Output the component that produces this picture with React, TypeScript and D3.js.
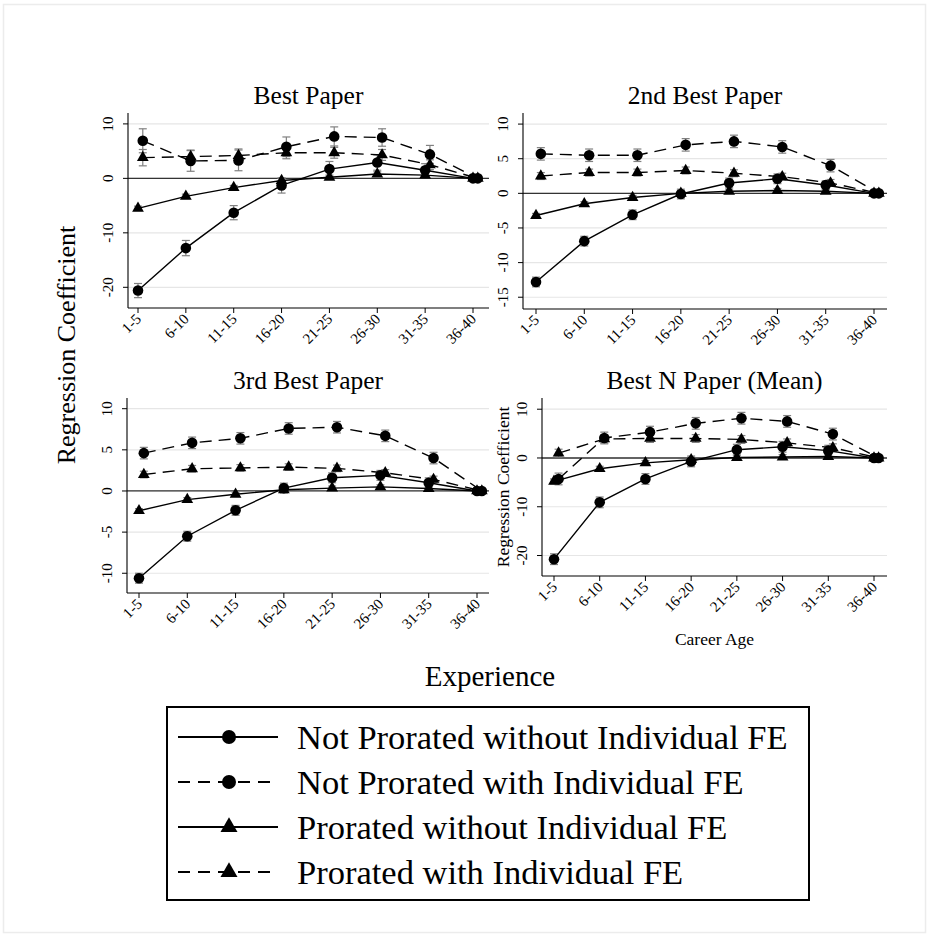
import React from "react";
import * as d3 from "d3";

// career age groups (x categories)
const ageGroups = ["1-5", "6-10", "11-15", "16-20", "21-25", "26-30", "31-35", "36-40"];

// Best Paper
const bestNotProNoFE = [-20.6, -12.8, -6.3, -1.3, 1.7, 2.9, 1.5, 0];
const bestNotProNoFECI = [1.3, 1.4, 1.3, 1.4, 1.4, 1.4, 1.2, 0];
const bestNotProFE = [6.9, 3.2, 3.3, 5.8, 7.7, 7.5, 4.4, 0];
const bestNotProFECI = [2.2, 1.9, 1.9, 1.8, 1.75, 1.6, 1.65, 0];
const bestProNoFE = [-5.5, -3.3, -1.7, -0.4, 0.2, 0.8, 0.6, 0];
const bestProNoFECI = [0.4, 0.4, 0.4, 0.4, 0.4, 0.4, 0.4, 0];
const bestProFE = [3.8, 4.0, 4.2, 4.7, 4.7, 4.3, 2.5, 0];
const bestProFECI = [1.5, 1.2, 1.2, 1.1, 1.0, 1.0, 0.9, 0];

// 2nd Best Paper
const secondNotProNoFE = [-12.8, -6.9, -3.1, -0.1, 1.5, 2.1, 1.2, 0];
const secondNotProNoFECI = [0.7, 0.7, 0.7, 0.7, 0.7, 0.7, 0.6, 0];
const secondNotProFE = [5.7, 5.5, 5.5, 7.0, 7.5, 6.7, 4.0, 0];
const secondNotProFECI = [0.9, 0.9, 0.9, 0.9, 0.9, 0.9, 0.9, 0];
const secondProNoFE = [-3.2, -1.5, -0.6, 0.0, 0.3, 0.4, 0.3, 0];
const secondProNoFECI = [0.3, 0.3, 0.3, 0.3, 0.3, 0.3, 0.3, 0];
const secondProFE = [2.5, 3.0, 3.0, 3.3, 2.9, 2.4, 1.5, 0];
const secondProFECI = [0.5, 0.5, 0.5, 0.5, 0.5, 0.5, 0.5, 0];

// 3rd Best Paper
const thirdNotProNoFE = [-10.6, -5.5, -2.35, 0.35, 1.6, 1.9, 1.0, 0];
const thirdNotProNoFECI = [0.6, 0.6, 0.6, 0.6, 0.6, 0.6, 0.6, 0];
const thirdNotProFE = [4.6, 5.85, 6.4, 7.6, 7.75, 6.7, 4.0, 0];
const thirdNotProFECI = [0.7, 0.7, 0.7, 0.7, 0.7, 0.7, 0.7, 0];
const thirdProNoFE = [-2.4, -1.05, -0.4, 0.15, 0.35, 0.5, 0.3, 0];
const thirdProNoFECI = [0.25, 0.25, 0.25, 0.25, 0.25, 0.25, 0.25, 0];
const thirdProFE = [2.0, 2.7, 2.8, 2.9, 2.75, 2.2, 1.4, 0];
const thirdProFECI = [0.4, 0.4, 0.4, 0.4, 0.4, 0.4, 0.4, 0];

// Best N Paper (Mean)
const meanNotProNoFE = [-20.75, -9.1, -4.3, -0.7, 1.7, 2.3, 1.5, 0];
const meanNotProNoFECI = [1.1, 1.1, 1.1, 1.1, 1.1, 1.1, 1.1, 0];
const meanNotProFE = [-4.3, 4.1, 5.3, 7.1, 8.15, 7.5, 4.9, 0];
const meanNotProFECI = [1.2, 1.2, 1.2, 1.2, 1.2, 1.2, 1.2, 0];
const meanProNoFE = [-4.8, -2.2, -1.0, -0.35, 0.1, 0.2, 0.3, 0];
const meanProNoFECI = [0.5, 0.5, 0.5, 0.5, 0.5, 0.5, 0.5, 0];
const meanProFE = [1.0, 3.9, 4.0, 4.0, 3.8, 3.1, 2.1, 0];
const meanProFECI = [0.8, 0.8, 0.8, 0.8, 0.8, 0.8, 0.8, 0];

const legendLabels = [
  "Not Prorated without Individual FE",
  "Not Prorated with Individual FE",
  "Prorated without Individual FE",
  "Prorated with Individual FE",
];

// style per series: dashed?, marker, shifted right (FE series)
const seriesStyle = [
  { dashed: false, marker: "circle", shift: 0 },
  { dashed: true, marker: "circle", shift: 0.1 },
  { dashed: false, marker: "triangle", shift: 0 },
  { dashed: true, marker: "triangle", shift: 0.1 },
];

const panels = [
  {
    title: "Best Paper",
    series: [bestNotProNoFE, bestNotProFE, bestProNoFE, bestProFE],
    ci: [bestNotProNoFECI, bestNotProFECI, bestProNoFECI, bestProFECI],
    axisX: 128, top: 113, bottom: 308, xFirst: 138, xLast: 473, right: 489,
    domain: [-23.8, 12.0], ticks: [-20, -10, 0, 10],
  },
  {
    title: "2nd Best Paper",
    series: [secondNotProNoFE, secondNotProFE, secondProNoFE, secondProFE],
    ci: [secondNotProNoFECI, secondNotProFECI, secondProNoFECI, secondProFECI],
    axisX: 523, top: 113, bottom: 309, xFirst: 536, xLast: 874, right: 887,
    domain: [-16.7, 11.6], ticks: [-15, -10, -5, 0, 5, 10],
  },
  {
    title: "3rd Best Paper",
    series: [thirdNotProNoFE, thirdNotProFE, thirdProNoFE, thirdProFE],
    ci: [thirdNotProNoFECI, thirdNotProFECI, thirdProNoFECI, thirdProFECI],
    axisX: 127, top: 398, bottom: 593, xFirst: 139, xLast: 477, right: 489,
    domain: [-12.4, 11.3], ticks: [-10, -5, 0, 5, 10],
  },
  {
    title: "Best N Paper (Mean)",
    series: [meanNotProNoFE, meanNotProFE, meanProNoFE, meanProFE],
    ci: [meanNotProNoFECI, meanNotProFECI, meanProNoFECI, meanProFECI],
    axisX: 542, top: 398, bottom: 576, xFirst: 554, xLast: 874, right: 887,
    domain: [-24.2, 12.3], ticks: [-20, -10, 0, 10],
    yLabel: "Regression Coefficient", xLabel: "Career Age",
  },
];

const FONT = "'Liberation Serif', 'Times New Roman', serif";
const DASH = "12,7";

function Marker({ type, x, y, r, tri }: any) {
  if (type === "circle") return <circle cx={x} cy={y} r={r} fill="#000" />;
  const p = d3.symbol(d3.symbolTriangle, tri)();
  return <path d={p || ""} transform={`translate(${x},${y})`} fill="#000" />;
}

function Panel({ p }: any) {
  const x = d3.scaleLinear().domain([0, ageGroups.length - 1]).range([p.xFirst, p.xLast]);
  const y = d3.scaleLinear().domain(p.domain).range([p.bottom, p.top]);
  const line = d3.line<number>().x((_, i) => x(i)).y((d) => y(d));
  return (
    <g>
      <text x={(p.axisX + p.right) / 2} y={p.top - 9} textAnchor="middle" fontSize={25.5} fontFamily={FONT}>
        {p.title}
      </text>
      {p.ticks.map((t: number) => (
        <line key={"g" + t} x1={p.axisX} x2={p.right} y1={y(t)} y2={y(t)} stroke="#e6e6e6" strokeWidth={1.2} />
      ))}
      <line x1={p.axisX} x2={p.right} y1={y(0)} y2={y(0)} stroke="#333" strokeWidth={1.3} />
      <line x1={p.axisX} x2={p.axisX} y1={p.top} y2={p.bottom} stroke="#000" strokeWidth={1.1} />
      <line x1={p.axisX} x2={p.right} y1={p.bottom} y2={p.bottom} stroke="#000" strokeWidth={1.1} />
      {p.ticks.map((t: number) => (
        <g key={"t" + t}>
          <line x1={p.axisX - 5} x2={p.axisX} y1={y(t)} y2={y(t)} stroke="#000" strokeWidth={1} />
          <text
            transform={`translate(${p.axisX - 15},${y(t)}) rotate(-90)`}
            textAnchor="middle" fontSize={15} fontFamily={FONT}
          >
            {t}
          </text>
        </g>
      ))}
      {ageGroups.map((g, i) => (
        <g key={g}>
          <line x1={x(i)} x2={x(i)} y1={p.bottom} y2={p.bottom + 5} stroke="#000" strokeWidth={1} />
          <text
            transform={`translate(${x(i) + 4},${p.bottom + 12}) rotate(-45)`}
            textAnchor="end" fontSize={15} fontFamily={FONT}
          >
            {g}
          </text>
        </g>
      ))}
      {p.yLabel && (
        <text
          transform={`translate(${p.axisX - 33},${(p.top + p.bottom) / 2}) rotate(-90)`}
          textAnchor="middle" fontSize={17.5} fontFamily={FONT}
        >
          {p.yLabel}
        </text>
      )}
      {p.xLabel && (
        <text x={(p.axisX + p.right) / 2} y={p.bottom + 69} textAnchor="middle" fontSize={17.5} fontFamily={FONT}>
          {p.xLabel}
        </text>
      )}
      {p.series.map((vals: number[], s: number) =>
        vals.map((v, i) => {
          const hw = p.ci[s][i];
          if (!hw) return null;
          const cx = x(i + seriesStyle[s].shift);
          return (
            <g key={`ci${s}-${i}`} stroke="#808080" strokeWidth={1.2}>
              <line x1={cx} x2={cx} y1={y(v - hw)} y2={y(v + hw)} />
              <line x1={cx - 4} x2={cx + 4} y1={y(v - hw)} y2={y(v - hw)} />
              <line x1={cx - 4} x2={cx + 4} y1={y(v + hw)} y2={y(v + hw)} />
            </g>
          );
        })
      )}
      {p.series.map((vals: number[], s: number) => {
        const st = seriesStyle[s];
        const ln = d3.line<number>().x((_, i) => x(i + st.shift)).y((d) => y(d));
        return (
          <g key={"s" + s}>
            <path d={ln(vals) || ""} fill="none" stroke="#000" strokeWidth={1.4} strokeDasharray={st.dashed ? DASH : undefined} />
            {vals.map((v, i) => (
              <Marker key={i} type={st.marker} x={x(i + st.shift)} y={y(v)} r={5.3} tri={60} />
            ))}
          </g>
        );
      })}
    </g>
  );
}

export default function App() {
  const legX = 167, legY = 707, legW = 642, legH = 193;
  const rowY = d3.scaleLinear().domain([0, 3]).range([737, 872]);
  return (
    <svg width={930} height={934} style={{ position: "absolute", left: 0, top: 0, background: "#fff" }}>
      <rect x={3.5} y={4.5} width={922} height={928} fill="#fff" stroke="#ececec" strokeWidth={1.5} />
      {panels.map((p) => (
        <Panel key={p.title} p={p} />
      ))}
      <text
        transform={`translate(75,345) rotate(-90)`}
        textAnchor="middle" fontSize={26} fontFamily={FONT}
      >
        Regression Coefficient
      </text>
      <text x={490} y={686} textAnchor="middle" fontSize={29} fontFamily={FONT}>
        Experience
      </text>
      <rect x={legX} y={legY} width={legW} height={legH} fill="#fff" stroke="#000" strokeWidth={2} />
      {legendLabels.map((lab, i) => {
        const st = seriesStyle[i];
        const ly = rowY(i);
        return (
          <g key={lab}>
            <line x1={178} x2={278} y1={ly} y2={ly} stroke="#000" strokeWidth={2}
              strokeDasharray={st.dashed ? "12,8" : undefined} />
            <Marker type={st.marker} x={229} y={ly} r={7} tri={125} />
            <text x={297} y={ly + 11.5} fontSize={34.5} fontFamily={FONT}>
              {lab}
            </text>
          </g>
        );
      })}
    </svg>
  );
}
